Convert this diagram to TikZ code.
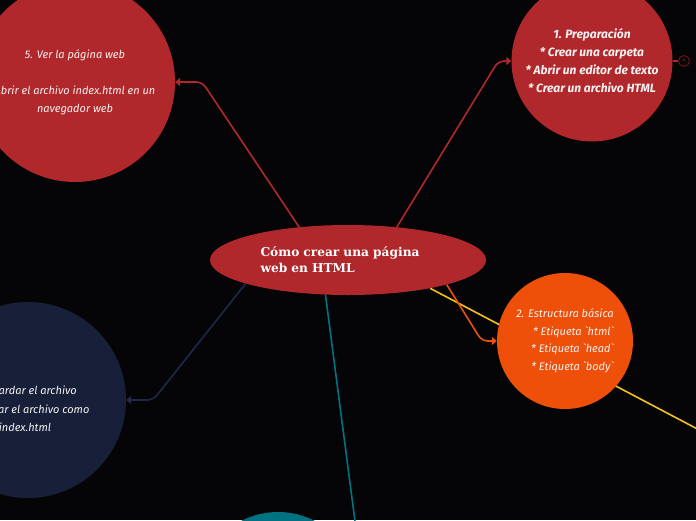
\documentclass[tikz,border=0pt]{standalone}
\usepackage{fontspec}
\usepackage{tikz}
\usetikzlibrary{arrows.meta,shapes.geometric,backgrounds}
\newfontfamily\handfont{Fira Sans}[Ligatures=TeXOff]
\newfontfamily\slabfont{DejaVu Serif}
\definecolor{MapBg}{HTML}{050507}
\definecolor{MapRed}{HTML}{B1282C}
\definecolor{MapRedDark}{HTML}{7A1518}
\definecolor{MapOrange}{HTML}{EE500A}
\definecolor{MapNavy}{HTML}{182039}
\definecolor{MapNavyLine}{HTML}{1E2847}
\definecolor{MapTeal}{HTML}{007383}
\definecolor{MapYellow}{HTML}{F2C21B}
\definecolor{MapText}{HTML}{F7F2F2}

\begin{document}
\begin{tikzpicture}[
    x=1pt, y=-1pt,
    topic/.style={ellipse, fill=MapRed, inner sep=0pt, minimum width=276pt, minimum height=70pt, text=white, text width=175pt, align=left, font=\slabfont\bfseries\fontsize{12.2}{16}\selectfont},
    bubble/.style={circle, inner sep=0pt, text=MapText, font=\handfont\itshape\fontsize{11}{18}\selectfont},
    note/.style={inner sep=0pt, text=MapText, align=center, font=\handfont\itshape\fontsize{11}{18.5}\selectfont},
    link/.style={line width=1.6pt, rounded corners=6pt, -{Triangle[length=5pt,width=8pt]}},
    fold/.style={circle, draw=MapRedDark, line width=0.8pt, minimum size=11pt, inner sep=0pt, text=MapRedDark, font=\sffamily\fontsize{6}{6}\selectfont}
]
    \useasboundingbox (0,0) rectangle (696,520);

    \node[topic] (main) at (348,260) {Cómo crear una página\\web en HTML};
    \node[bubble, fill=MapRed, minimum size=161pt, align=center, font=\handfont\itshape\bfseries\fontsize{12}{18}\selectfont] (n1) at (592,61) {1. Preparación\\* Crear una carpeta\\* Abrir un editor de texto\\* Crear un archivo HTML};
    \node[fold] (n1fold) at (684,61) {4};
    \node[bubble, fill=MapOrange, minimum size=136pt, align=right, font=\handfont\itshape\fontsize{11}{17.5}\selectfont] (n2) at (565,341) {2. Estructura básica\\* Etiqueta `html`\\* Etiqueta `head`\\* Etiqueta `body`};
    \node[bubble, fill=MapTeal, minimum size=160pt] (n3) at (278,592) {};
    \node[bubble, fill=MapNavy, minimum size=196pt] (n4) at (28,400) {};
    \node[note] (n4text) at (25,409) {4. Guardar el archivo\\* Guardar el archivo como\\index.html};
    \node[bubble, fill=MapRed, minimum size=200pt, align=center] (n5) at (75,82) {5. Ver la página web\\\mbox{}\\Abrir el archivo index.html en un\\navegador web};
    \coordinate (yend) at (800,483);

    \begin{pgfonlayer}{background}
        \fill[MapBg] (0,0) rectangle (696,520);
        \draw[MapYellow, line width=1.6pt] (main.-19) -- (yend);
        \draw[link, MapTeal] (main.237) -- ([xshift=6pt]n3.east) -- (n3.east);
        \draw[link, MapNavyLine] (main.193) -- ([xshift=27pt]n4.east) -- (n4.east);
        \draw[link, MapRed] (main.146) -- ([xshift=27pt]n5.east) -- (n5.east);
        \draw[link, MapRed] (main.34) -- ([xshift=-13pt]n1.west) -- (n1.west);
        \draw[link, MapOrange] (main.-14) -- ([xshift=-15pt]n2.west) -- (n2.west);
        \draw[MapRed, line width=1.2pt] (n1.east) -- (n1fold.west);
    \end{pgfonlayer}
\end{tikzpicture}
\end{document}
